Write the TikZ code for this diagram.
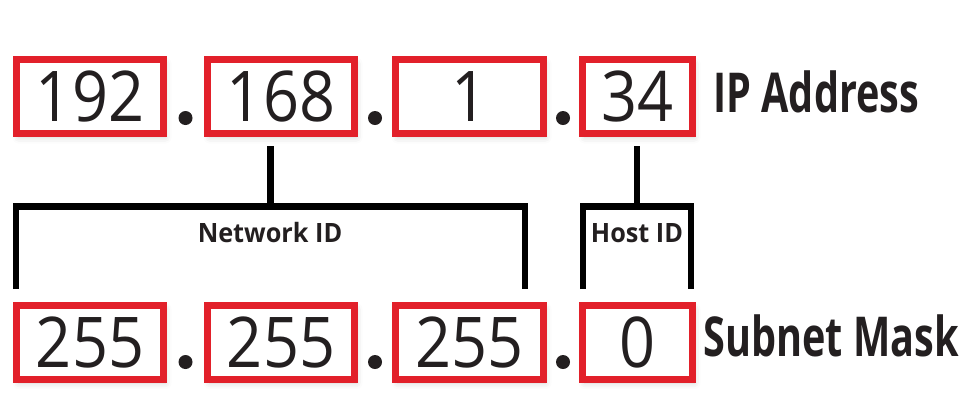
\documentclass[tikz,border=0pt]{standalone}
\usepackage{fontspec}
\setmainfont{Open Sans}
\newfontfamily\digitfont[FakeStretch=0.9]{Open Sans}
\newfontfamily\labelfont[FakeStretch=0.72]{Open Sans}
\newfontfamily\partfont[FakeStretch=0.95]{Open Sans}
\usepackage{tikz}
\usetikzlibrary{shadows.blur}
\definecolor{boxred}{HTML}{E2202A}
\definecolor{ink}{HTML}{231F20}

\begin{document}
\begin{tikzpicture}[x=0.5pt, y=-0.5pt,
        octet/.style = {rectangle, draw=boxred, fill=white,
            line width=3.5pt, inner sep=0pt, minimum height=37pt,
            text=ink, font=\digitfont\fontsize{35}{36}\selectfont,
            blur shadow={shadow xshift=1pt, shadow yshift=-2pt,
                shadow blur radius=3pt, shadow opacity=18}},
        sep/.style = {circle, fill=ink, inner sep=0pt, minimum size=7pt},
        title/.style = {anchor=base west, text=ink, inner sep=0pt,
            font=\labelfont\bfseries\fontsize{27.5}{30}\selectfont},
        part/.style = {anchor=base, text=ink, inner sep=0pt,
            font=\partfont\bfseries\fontsize{13.3}{14}\selectfont},
        bracket/.style = {draw=black, line width=3.25pt, miter limit=10}]

        \useasboundingbox (0,0) rectangle (968,419);

        % IP address octets
        \node[octet, minimum width=73.5pt] (ipA) at (90,96.5) {192};
        \node[octet, minimum width=73.5pt] (ipB) at (281,96.5) {168};
        \node[octet, minimum width=74pt] (ipC) at (469.5,96.5) {1};
        \node[octet, minimum width=55pt] (ipD) at (637.5,96.5) {34};
        \node[sep] (ipdotA) at (185.5,118) {};
        \node[sep] (ipdotB) at (375,118) {};
        \node[sep] (ipdotC) at (563,118) {};
        \node[title] (iplabel) at (713,112) {IP Address};

        % Subnet mask octets
        \node[octet, minimum width=73.5pt] (maskA) at (90,342) {255};
        \node[octet, minimum width=73.5pt] (maskB) at (281,342) {255};
        \node[octet, minimum width=74pt] (maskC) at (469.5,342) {255};
        \node[octet, minimum width=55pt] (maskD) at (637.5,342) {0};
        \node[sep] (maskdotA) at (185.5,362) {};
        \node[sep] (maskdotB) at (375,362) {};
        \node[sep] (maskdotC) at (563,362) {};
        \node[title] (masklabel) at (703,356) {Subnet Mask};

        % Network ID bracket
        \coordinate (netStem) at (270.5,146);
        \coordinate (netTop) at (270.5,206.5);
        \coordinate (netL) at (16,289);
        \coordinate (netR) at (525,289);
        \draw[bracket] (netL) |- (netTop) -| (netR);
        \draw[bracket] (netStem) -- (netTop);
        \node[part] (netlabel) at (270,242) {Network ID};

        % Host ID bracket
        \coordinate (hostStem) at (637,146);
        \coordinate (hostTop) at (637,206.5);
        \coordinate (hostL) at (583,289);
        \coordinate (hostR) at (691,289);
        \draw[bracket] (hostL) |- (hostTop) -| (hostR);
        \draw[bracket] (hostStem) -- (hostTop);
        \node[part] (hostlabel) at (637,242) {Host ID};

    \end{tikzpicture}
\end{document}
